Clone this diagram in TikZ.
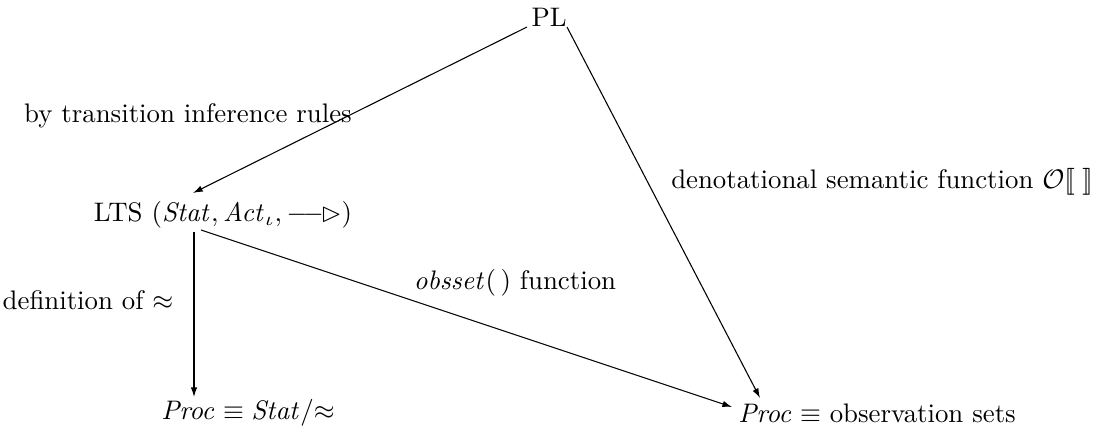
\documentclass[tikz,border=0pt]{standalone}
\usepackage{amssymb}
\usetikzlibrary{arrows.meta}
\begin{document}
\begin{tikzpicture}[x=0.0131cm, y=-0.0131cm, >={Latex[length=3.6pt,width=2.4pt]}]
    % Frame
    \useasboundingbox (0,0) rectangle (1099,430);

    % Main nodes
    \node (pl) at (549, 17) {PL};
    \node (lts) at (223, 215) {LTS $(\mathit{Stat}, \mathit{Act}_\iota, \mathrel{\relbar\joinrel\relbar\mkern-7mu\rhd})$};
    \node (procA) at (248, 413) {$\mathit{Proc} \equiv \mathit{Stat}/{\approx}$};
    \node (procB) at (877, 413) {$\mathit{Proc} \equiv$ observation sets};

    % Arrows between nodes
    \draw[->] ([shift={(-22,10)}]pl.center) -- ([shift={(-30,-22)}]lts.center);
    \draw[->] ([shift={(-29,17)}]lts.center) -- ([shift={(-54,-16)}]procA.center);
    \draw[->] ([shift={(-22,15)}]lts.center) -- ([shift={(-145,-6)}]procB.center);
    \draw[->] ([shift={(18,10)}]pl.center) -- ([shift={(-117,-15)}]procB.center);

    % Labels
    \node (rules) at (188, 116) {by transition inference rules};
    \node (defeq) at (88, 300) {definition of $\approx$};
    \node (obs) at (515, 283) {$\mathit{obsset}(\,)$ function};
    \node (den) at (882, 182) {denotational semantic function $\mathcal{O}[\![\;]\!]$};
\end{tikzpicture}
\end{document}
